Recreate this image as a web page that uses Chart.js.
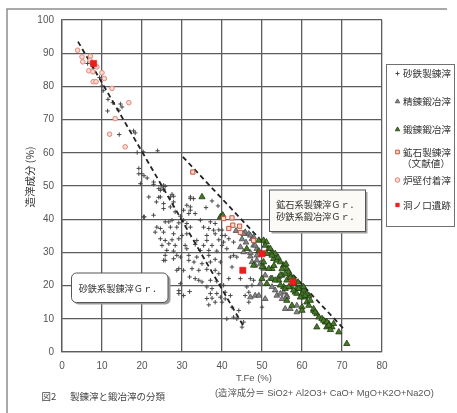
<!DOCTYPE html>
<html lang="ja">
<head>
<meta charset="utf-8">
<title>製錬滓と鍛冶滓の分類</title>
<script src="https://cdn.jsdelivr.net/npm/chart.js@4/dist/chart.umd.min.js"></script>
<style>
  html, body { margin: 0; padding: 0; background: #ffffff; }
  #wrap { width: 457px; height: 413px; }
</style>
</head>
<body>
<div id="wrap"><canvas id="c" width="457" height="413"></canvas></div>
<script>
// ---- data: [T.Fe %, 造滓成分 %] ----
const sandIronSmelting = [ // 砂鉄製錬滓
  [6.4,86.9],[7.9,85.5],[9.4,82.7],[10,80.1],[10.3,78.7],[11.5,76.1],[12.7,75.1],[14.6,74.7],
  [14.2,72.8],[11.4,72.6],[15,73.8],[14.3,65.5],[17.9,66.6],[18.3,66],[18.8,60.1],[20.3,60.3],
  [23.9,60.6],[19.2,53.7],[19.9,53.7],[20.5,53.1],[19.6,50.7],[22.9,50.5],[25,49.7],[25.8,49.9],
  [21.7,46.7],[24.2,46.6],[27.9,46.9],[24.6,48.7],[19.2,55.3],[21.3,52.4],[25.4,48.9],[27.1,46.7],
  [32.1,46.7],[22.9,51.2],
  [25.4,50.2],[24.2,49.2],[24.6,46.7],[27.5,47.5],[23.6,45.2],[25.4,44.7],[27.9,45.2],[32.1,46.2],
  [32.9,46.2],[31.2,44.2],[32.1,43.7],[25.4,43.2],[27.1,43.7],[28.3,42.2],[30.4,42.7],[32.1,42.7],
  [22.9,41.2],[20.6,40.7],[29.6,40.9],[31.7,41.7],[33.3,41.7],[25.8,39.2],[26.7,39.2],[27.5,39.7],
  [29.2,38.9],[30.4,39.7],[31.2,38.7],[34.6,39.7],[37.1,39.2],[38.3,38.7],[23.7,37.6],[24.6,37.2],
  [27.1,37.6],[28.7,37.6],[32.1,37.6],[35.4,37.6],[36.7,37.2],[37.9,36.7],[39.2,36.8],[23.3,36.1],
  [25.4,36.1],[27.9,35.6],[30,35.1],[31.2,35.6],[36.2,35.1],[38.3,35.6],[40,35.1],[24.6,34.1],
  [25.8,33.6],[27.5,33.8],[29.2,34.1],[33.7,33.6],[36.2,33.6],[39.2,33.8],[25,32.1],[26.7,32.6],
  [28.3,32.1],[30.8,32.1],[33.3,32.4],[35.4,32.1],[37.5,32.1],[40,32.1],[26.2,30.6],[27.9,30.4],
  [31.2,31.1],[34.6,30.6],[36.7,30.6],[38.7,30.4],[25.8,29.1],[28.7,29.1],[31.7,29.1],[33.7,28.6],
  [36.7,29.1],
  [25.8,27.6],[27.9,28.1],[29.6,28.6],[31.7,27.6],[33,27.1],[35,26.6],[37.1,27.1],[38.3,27.9],
  [39.6,27.1],[29.2,25.1],[30.4,24.6],[32.5,25.1],[34.2,24.6],[36.2,24.9],[38.3,24.6],[39.2,23.6],
  [31.9,22.6],[33.3,22.1],[34.2,21.6],[35,21.1],[37.1,21.6],[38.7,21.3],[39.6,20.1],[29.6,20.6],
  [36.2,19.6],[37.5,19.1],[29.2,17.6],[31.9,18.2],[37.1,17.6],[38.7,17.6],[36.2,16.1],[37.5,16.2],
  [39.6,16.5],[38.3,15],[36.7,14.2],[40,15],
  [42.1,28.6],[43.7,28.6],[42.5,25.6],[41.7,22.1],[44.6,22.1],[47.1,22.1],[47.9,21.6],[47.5,20.1],
  [46.2,19.6],[40.4,20.1],[40.8,18],[42.1,17],[45.8,17],[46.7,15],[40.8,16],[42.5,13.5],
  [44.2,12.5],[42.9,10.5],[43.7,10],[41.2,10],[45.4,9],[45,7.5],[50,13.5],[46.7,18],
  [40,36.7],[40.8,35.1],[41.7,34.1],[40.4,33.1],[42.9,33.1],[41.2,31.1],[42.9,29.1],
  [37.5,45.5],[39,44],[36,43.5],[20.4,40.7],[25.4,27.6],[28.7,24.6],[29.2,18.5],[30.4,17]
];

const refiningSmithing = [ // 精錬鍛冶滓
  [45.8,36.1],[46.7,35.6],[47.5,34.1],[44.6,31.6],[47.9,32.1],[48.7,31.1],[45.4,30.1],[47.1,28.8],
  [48.7,29.1],[47.9,34.6],[47.1,35.1],[48.3,32.1],[47.1,29.9],[48.3,26.1],[48.7,27.6],[47.5,27.1],
  [49.6,26.6],[50.4,25.1],[52.1,22.1],[54.2,22.6],[55.4,18],[56.2,17],[53.7,17],[55,16],
  [55.8,13],[57.1,13],[58.7,14],[47.1,16.5],[48.3,17],[50.8,16],[50.8,23.1],[49.6,20.6],
  [52.5,19.6],[53.3,18.6],[54.6,17.6],[56.2,16.5],[49.2,17],[58.7,12],[43.5,36.5],[45,34],
  [46,33],[45.4,35.6]
];

const forgingSmithing = [ // 鍛錬鍛冶滓
  [35,46.7],[39.6,40.7],[40.2,41.2],[46.2,31.1],[50.4,33.6],[51.1,33.1],[50.8,32.1],[51.7,31.1],
  [52.5,30.1],[53.3,29.6],[52.9,28.1],[53.7,27.6],[54.6,27.1],[55.4,26.1],[56.2,25.1],[56.7,24.1],
  [55.8,23.6],[57.1,23.1],[55,23.1],[57.9,22.1],[56.2,21.6],[54.2,21.6],[52.5,22.1],[51.2,20.6],
  [55.4,19.6],[57.1,19.6],[58.7,19.1],[58.3,18],[60,17.6],[60.8,16.5],[61.7,17],[50.4,25.6],
  [52.5,25.1],[49.2,33.6],[50.4,27.1],[50,25.6],[51.7,25.1],[53.3,21.6],[54.6,20.1],[55.8,19.1],
  [56.7,19.6],[57.9,18.6],[58.7,17.6],[59.6,16.5],[56.2,15.5],[57.5,14],[60,13.5],[61.2,15],
  [62.1,15.5],[59.6,19.1],[60.4,18.6],[61.2,17.6],[62.9,12.5],[63.7,11.5],[64.2,10.5],[65,10],
  [65.8,9],[66.7,8.5],[67.5,7.5],[67.9,8.5],[66.2,7.5],[67.1,6.7],[63.7,7.5],[71.2,2.5],
  [47.9,26.1],[50,22.1],[54.6,23.1],[57.1,22.4],[60.8,17],[61.7,14],[62.9,13],[63.3,12],
  [65.4,9.5],[66.2,9],[66.7,8],[69.2,6],[60,12.5],[59.2,19.1],[60.4,19.6],[52.1,31.1],
  [51.2,29.6],[52.5,29.1],[49.2,30.4],[53,26],[55,25],[56,26.5],[54,28.5],[58,20.5],[59,21]
];

const oreSmeltingLit = [ // 鉱石製錬滓（文献値）
  [32.7,54.2],[40.4,40.2],[42.5,40.4],[42.7,38.2],[44.4,37.9],[44.6,36],[47.9,33.6],[41.7,37.2]
];

const furnaceWall = [ // 炉壁付着滓
  [3.9,90.9],[5,88.9],[5.2,87.4],[7.1,89.1],[7,87.9],[6.7,84.7],[7.7,84.4],[8.7,85.9],
  [10,84.1],[10.6,82.4],[7.8,81.4],[8.5,81.4],[12.5,79.4],[16.7,75.1],[13.3,70.3],[11.9,65.6],
  [15.8,61.8]
];

const horanokuchiSite = [ // 洞ノ口遺跡
  [7.9,86.9],[45.2,24.6],[50,29.6],[57.7,21.1]
];

// dashed boundary lines between the groups
const boundarySandIron = [[4,93.5],[45.5,7.5]];
const boundaryOre = [[30.2,58.8],[70.4,7]];

const xRange = [0, 80];
const yRange = [0, 100];
const tickStep = 10;

const legendLabels = ['砂鉄製錬滓', '精錬鍛冶滓', '鍛錬鍛冶滓', '鉱石製錬滓', '炉壁付着滓', '洞ノ口遺跡'];

const pts = arr => arr.map(([x, y]) => ({ x, y }));
const FONT = '"Liberation Sans", "Noto Sans CJK JP", sans-serif';
const JFONT = '"Noto Sans CJK JP", sans-serif';

const datasets = [
  { label: legendLabels[5], data: pts(horanokuchiSite), pointStyle: 'rect', pointRadius: 4.4,
    backgroundColor: '#ee1d1d', borderColor: '#e01010', borderWidth: 0.5, order: 0, inLegend: 5 },
  { label: legendLabels[4], data: pts(furnaceWall), pointStyle: 'circle', pointRadius: 2.3,
    backgroundColor: '#fadbd3', borderColor: '#e28674', borderWidth: 1, order: 1, inLegend: 4 },
  { label: legendLabels[3], data: pts(oreSmeltingLit), pointStyle: 'rect', pointRadius: 3,
    backgroundColor: '#f6d8cc', borderColor: '#c8553c', borderWidth: 1, order: 2, inLegend: 3 },
  { label: legendLabels[2], data: pts(forgingSmithing), pointStyle: 'triangle', pointRadius: 3.6,
    backgroundColor: '#467a27', borderColor: '#1f3a12', borderWidth: 0.8, order: 3, inLegend: 2 },
  { label: legendLabels[1], data: pts(refiningSmithing), pointStyle: 'triangle', pointRadius: 3.3,
    backgroundColor: '#868686', borderColor: '#4c4c4c', borderWidth: 0.8, order: 4, inLegend: 1 },
  { label: '', data: pts(boundarySandIron), showLine: true, pointRadius: 0, borderColor: '#222',
    borderWidth: 1.8, borderDash: [5, 3.5], order: 5 },
  { label: '', data: pts(boundaryOre), showLine: true, pointRadius: 0, borderColor: '#222',
    borderWidth: 1.8, borderDash: [5, 3.5], order: 5 },
  { label: legendLabels[0], data: pts(sandIronSmelting), pointStyle: 'cross', pointRadius: 2.2,
    backgroundColor: '#484848', borderColor: '#484848', borderWidth: 1, order: 6, inLegend: 0 }
];

// figure decorations: frame, axis titles, group boxes, legend and caption
const figureDecor = {
  id: 'figureDecor',
  afterDraw(chart) {
    const ctx = chart.ctx;
    ctx.save();

    // outer frame (top and left edges)
    ctx.strokeStyle = '#8d8d8d';
    ctx.lineWidth = 1.5;
    ctx.beginPath();
    ctx.moveTo(7, 413); ctx.lineTo(7, 9); ctx.lineTo(447, 9);
    ctx.stroke();

    // y axis title
    ctx.fillStyle = '#333';
    ctx.font = '10.5px ' + JFONT;
    ctx.textAlign = 'center';
    ctx.textBaseline = 'middle';
    ctx.save();
    ctx.translate(30, 177);
    ctx.rotate(-Math.PI / 2);
    ctx.fillText('造滓成分 (%)', 0, 0);
    ctx.restore();

    // x axis title
    ctx.fillStyle = '#555';
    ctx.font = '9.5px ' + FONT;
    ctx.fillText('T.Fe (%)', 254, 378);

    // group box: 砂鉄系製錬滓
    const box = (x, y, w, h, r) => {
      ctx.beginPath();
      ctx.roundRect(x, y, w, h, r);
    };
    ctx.fillStyle = '#9a9a9a';
    box(73.5, 275, 97, 29.5, 5); ctx.fill();
    ctx.fillStyle = '#ffffff';
    ctx.strokeStyle = '#555';
    ctx.lineWidth = 1;
    box(71.5, 273, 96.5, 29.5, 5); ctx.fill(); ctx.stroke();
    ctx.fillStyle = '#333';
    ctx.font = '9.2px ' + JFONT;
    ctx.fillText('砂鉄系製錬滓Ｇｒ．', 120, 288.5);

    // group box: 鉱石系製錬滓 / 砂鉄系鍛冶滓
    ctx.fillStyle = '#a0a0a0';
    ctx.fillRect(271.5, 192, 96, 41.5);
    ctx.fillStyle = '#fcfaf7';
    ctx.fillRect(269.5, 190, 96, 41.5);
    ctx.strokeRect(269.5, 190, 96, 41.5);
    ctx.fillStyle = '#333';
    ctx.fillText('鉱石系製錬滓Ｇｒ．', 317.5, 205);
    ctx.fillText('砂鉄系鍛冶滓Ｇｒ．', 317.5, 217);

    // legend
    ctx.fillStyle = '#ffffff';
    ctx.strokeStyle = '#707070';
    ctx.lineWidth = 1;
    ctx.fillRect(386.5, 64.5, 68, 162);
    ctx.strokeRect(386.5, 64.5, 68, 162);
    const rows = [73.5, 101.5, 129.5, 152, 180, 205];
    const items = chart.data.datasets.filter(d => d.inLegend !== undefined)
      .sort((a, b) => a.inLegend - b.inLegend);
    ctx.textAlign = 'left';
    ctx.font = '9.6px ' + JFONT;
    items.forEach((ds, i) => {
      const yy = rows[i];
      ctx.fillStyle = ds.backgroundColor;
      ctx.strokeStyle = ds.borderColor;
      ctx.lineWidth = ds.borderWidth;
      Chart.helpers.drawPoint(ctx, {
        pointStyle: ds.pointStyle,
        radius: Math.min(ds.pointRadius, 2.6) * (ds.pointStyle === 'cross' ? 0.9 : 1),
        borderWidth: ds.borderWidth,
        rotation: 0
      }, 397.5, yy);
      ctx.fillStyle = '#333';
      ctx.fillText(ds.label, 403, yy);
      if (ds.inLegend === 3) {
        ctx.textAlign = 'center';
        ctx.fillText('（文献値）', 426, yy + 11.5);
        ctx.textAlign = 'left';
      }
    });

    // caption
    ctx.fillStyle = '#444';
    ctx.font = '9.5px ' + JFONT;
    ctx.fillText('図2', 41.5, 396.5);
    ctx.fillText('製錬滓と鍛冶滓の分類', 70, 396.5);
    ctx.font = '9.3px ' + FONT;
    ctx.fillStyle = '#555';
    ctx.fillText('(造滓成分＝ SiO2+ Al2O3+ CaO+ MgO+K2O+Na2O)', 215, 393);

    ctx.restore();
  }
};

const gridStyle = { color: '#5c5c5c', lineWidth: 1.3, drawTicks: false };

new Chart(document.getElementById('c'), {
  type: 'scatter',
  data: { datasets },
  options: {
    responsive: false,
    animation: false,
    devicePixelRatio: 1,
    layout: { padding: { left: 0, top: 20, right: 75, bottom: 31 } },
    plugins: { legend: { display: false }, tooltip: { enabled: false } },
    scales: {
      x: {
        type: 'linear', min: xRange[0], max: xRange[1],
        grid: gridStyle,
        border: { display: true, color: '#5c5c5c', width: 1.3 },
        ticks: { stepSize: tickStep, padding: 8, color: '#555', font: { family: FONT, size: 10 } },
        afterFit(s) { s.height = 30; }
      },
      y: {
        type: 'linear', min: yRange[0], max: yRange[1],
        grid: gridStyle,
        border: { display: true, color: '#5c5c5c', width: 1.3 },
        ticks: { stepSize: tickStep, padding: 8, color: '#555', font: { family: FONT, size: 10 } },
        afterFit(s) { s.width = 62; }
      }
    }
  },
  plugins: [figureDecor]
});
</script>
</body>
</html>
